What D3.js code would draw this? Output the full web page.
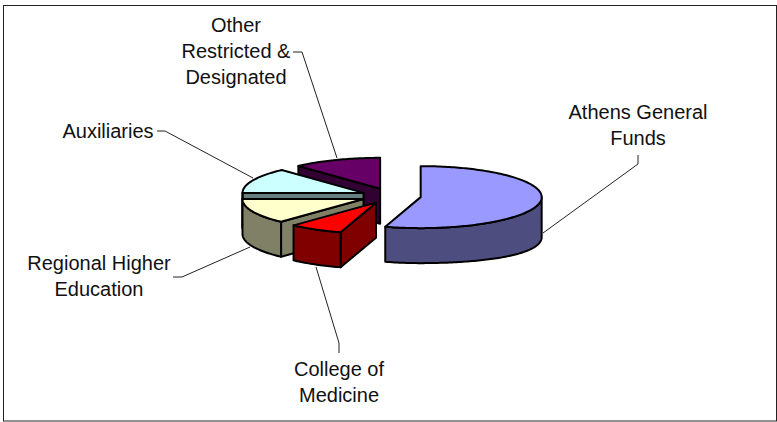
<!DOCTYPE html>
<html>
<head>
<meta charset="utf-8">
<script src="https://cdn.jsdelivr.net/npm/d3@7"></script>
<style>
body { margin: 0; background: #fff; }
text { font-family: "Liberation Sans", Arial, sans-serif; font-size: 20px; fill: #111; }
</style>
</head>
<body>
<svg width="777" height="422"></svg>
<script>
// values, percent of total
var categories = ['Athens General Funds', 'College of Medicine', 'Regional Higher Education', 'Auxiliaries', 'Other Restricted & Designated'];
var values = [54.7, 7.2, 13.05, 13.2, 11.8];
var topColors = ['#9999ff', '#ff0000', '#ffffcc', '#ccffff', '#660066'];
var sideColors = ['#4d4d80', '#800000', '#808066', '#668080', '#330033'];
var labelLines = [['Athens General', 'Funds'], ['College of', 'Medicine'], ['Regional Higher', 'Education'], ['Auxiliaries'], ['Other', 'Restricted &', 'Designated']];
var labelPos = [[638, 119], [339, 376], [99, 270], [108, 138], [236, 32]];
var leaders = [
    [[638, 155], [638, 164], [543, 233]],
    [[339, 353], [339, 343], [316, 267]],
    [[173, 277], [182, 277], [250, 247]],
    [[157, 131], [165, 131], [253, 178]],
    [[293, 52], [302, 52], [337, 158]]
];

var svg = d3.select('svg');

// chart frame
svg.append('rect')
    .attr('x', 3.5).attr('y', 5.5)
    .attr('width', 773).attr('height', 415.5)
    .attr('fill', '#fff')
    .attr('stroke', '#222')
    .attr('stroke-width', 1);

// pie geometry, tilted: plan coordinates -1..1 are mapped to the screen
var centerX = 391, centerY = 196;
var radiusX = 121, radiusY = 31, depth = 35;
var explode = 30 / 121;
var xScale = d3.scaleLinear().domain([-1, 1]).range([centerX - radiusX, centerX + radiusX]);
var yScale = d3.scaleLinear().domain([-1, 1]).range([centerY - radiusY, centerY + radiusY]);

var arcs = d3.pie().sort(null)(values);

function project(a, r, cx, cy, drop) {
    var px = cx + r * Math.sin(a);
    var py = cy - r * Math.cos(a);
    // the right hand side sits a little closer to the camera, so its wall is taller
    var extra = drop ? 5 * Math.pow(Math.max(0, px - cx) , 2) : 0;
    return [xScale(px), yScale(py) + (drop || 0) + extra];
}

function sample(a0, a1) {
    var n = Math.max(2, Math.ceil(Math.abs(a1 - a0) / 0.02));
    return d3.range(n + 1).map(function (i) { return a0 + (a1 - a0) * i / n; });
}

var line = d3.line();

// the explode offset is the same in plan coordinates, so y stays squashed
function drawSlice(d, i) {
    var mid = (d.startAngle + d.endAngle) / 2;
    var cx = explode * Math.sin(mid);
    var cy = -explode * Math.cos(mid);
    var g = svg.append('g')
        .attr('class', 'slice')
        .attr('stroke', '#000')
        .attr('stroke-width', 2)
        .attr('stroke-linejoin', 'round');

    function cut(a) {
        var apex = project(0, 0, cx, cy);
        var rim = project(a, 1, cx, cy);
        g.append('path')
            .attr('fill', sideColors[i])
            .attr('d', line([apex, rim, [rim[0], rim[1] + depth], [apex[0], apex[1] + depth]]) + 'Z');
    }

    // end cut only faces the viewer on the way up the back, start cut on the rest
    if (d.endAngle < Math.PI) cut(d.endAngle);
    if (d.startAngle > Math.PI / 2) cut(d.startAngle);

    // outer wall, front half only
    var w0 = Math.max(d.startAngle, Math.PI / 2);
    var w1 = Math.min(d.endAngle, Math.PI * 1.5);
    if (w1 > w0) {
        var upper = sample(w0, w1).map(function (a) { return project(a, 1, cx, cy); });
        var lower = sample(w1, w0).map(function (a) { return project(a, 1, cx, cy, depth); });
        g.append('path')
            .attr('fill', sideColors[i])
            .attr('d', line(upper.concat(lower)) + 'Z');
    }

    // top face
    var rim = sample(d.startAngle, d.endAngle).map(function (a) { return project(a, 1, cx, cy); });
    g.append('path')
        .attr('fill', topColors[i])
        .attr('d', line([project(0, 0, cx, cy)].concat(rim)) + 'Z');
}

// painted back to front
[4, 3, 2, 1, 0].forEach(function (i) { drawSlice(arcs[i], i); });

// leader lines
svg.selectAll('path.leader')
    .data(leaders)
    .enter().append('path')
    .attr('class', 'leader')
    .attr('fill', 'none')
    .attr('stroke', '#222')
    .attr('stroke-width', 1)
    .attr('d', function (d) { return line(d); });

// labels
categories.forEach(function (name, i) {
    var t = svg.append('text')
        .attr('text-anchor', 'middle')
        .attr('transform', 'translate(' + labelPos[i] + ')');
    t.selectAll('tspan')
        .data(labelLines[i])
        .enter().append('tspan')
        .attr('x', 0)
        .attr('y', function (d, j) { return j * 26; })
        .text(function (d) { return d; });
});
</script>
</body>
</html>
